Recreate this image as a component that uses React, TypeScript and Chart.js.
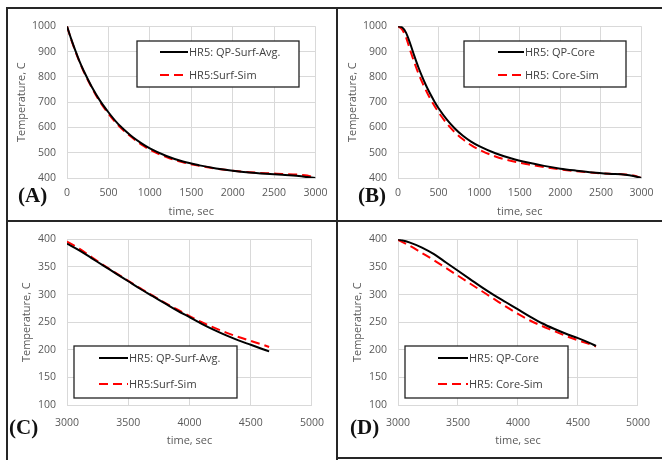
import React, { useEffect, useRef } from 'react';
import { Chart, registerables } from 'chart.js';

Chart.register(...registerables);

// ---------- data ----------
const timesA = [0, 50, 100, 150, 200, 300, 400, 500, 600, 700, 800, 900, 1000, 1200, 1400, 1600, 1800, 2000, 2200, 2400, 2600, 2800, 2900, 3000];
const surfAvgA = [1000, 950, 905, 862, 825, 760, 705, 660, 620, 588, 560, 537, 517, 487, 465, 450, 438, 429, 422, 417, 413, 408, 404, 400];
const surfSimA = [1000, 948, 902, 860, 822, 757, 700, 655, 615, 583, 556, 532, 512, 483, 462, 448, 437, 429, 423, 419, 416, 413, 410, 400];

const timesB = [0, 50, 100, 150, 200, 250, 300, 350, 400, 450, 500, 600, 700, 800, 900, 1000, 1200, 1400, 1600, 1800, 2000, 2200, 2400, 2600, 2800, 2900, 3000];
const coreB = [1000, 996, 974, 932, 884, 839, 799, 763, 731, 702, 676, 632, 596, 567, 544, 526, 498, 477, 461, 448, 437, 429, 422, 417, 413, 408, 400];
const coreSimB = [1000, 988, 955, 905, 858, 815, 777, 743, 712, 685, 660, 616, 581, 553, 530, 512, 485, 467, 454, 443, 434, 427, 421, 417, 414, 410, 400];

const timesCD = [3000, 3100, 3200, 3300, 3400, 3500, 3600, 3700, 3800, 3900, 4000, 4100, 4200, 4300, 4400, 4500, 4600, 4650];
const surfAvgC = [392, 380, 366, 352, 338, 324, 310, 297, 284, 271, 259, 247, 236, 226, 217, 209, 201, 197];
const surfSimC = [396, 383, 368, 353, 339, 325, 311, 298, 285, 273, 261, 250, 240, 231, 223, 216, 209, 205];
const coreD = [400, 394, 385, 373, 358, 343, 328, 313, 299, 286, 273, 260, 248, 238, 229, 221, 212, 207];
const coreSimD = [399, 388, 375, 362, 348, 334, 320, 306, 292, 278, 265, 253, 243, 234, 225, 217, 210, 206];

const labelsA = ['HR5: QP-Surf-Avg.', 'HR5:Surf-Sim'];
const labelsB = ['HR5: QP-Core', 'HR5: Core-Sim'];
const xTitle = 'time, sec';
const yTitle = 'Temperature, C';
const panelTags = ['(A)', '(B)', '(C)', '(D)'];

// ---------- styles ----------
const FONT = '"Open Sans", "Liberation Sans", sans-serif';
const AXIS_COLOR = '#595959';
const GRID_COLOR = '#d9d9d9';

const boxLegend = {
  id: 'boxLegend',
  afterDraw(chart: any, _args: any, opts: any) {
    const { ctx } = chart;
    ctx.save();
    ctx.fillStyle = '#ffffff';
    ctx.fillRect(opts.x, opts.y, opts.w, opts.h);
    ctx.strokeStyle = '#222222';
    ctx.lineWidth = 1.3;
    ctx.strokeRect(opts.x, opts.y, opts.w, opts.h);
    chart.data.datasets.forEach((ds: any, i: number) => {
      const y = opts.rows[i];
      ctx.beginPath();
      ctx.setLineDash(ds.borderDash || []);
      ctx.strokeStyle = ds.borderColor;
      ctx.lineWidth = ds.borderWidth;
      ctx.moveTo(opts.sx0, y);
      ctx.lineTo(opts.sx1, y);
      ctx.stroke();
      ctx.setLineDash([]);
      ctx.fillStyle = '#404040';
      ctx.font = '11px ' + FONT;
      ctx.textBaseline = 'middle';
      ctx.textAlign = 'left';
      ctx.fillText(ds.label, opts.tx, y + 0.5);
    });
    ctx.restore();
  },
};

type Panel = {
  left: number; top: number; width: number; height: number;
  xMin: number; xMax: number; yMin: number; yMax: number; yStep: number;
  yAxisWidth: number; xAxisHeight: number; padTop: number; padRight: number;
  xTickPad: number; xTitlePad: number; yTitlePad: number;
  xs: number[]; solid: number[]; dashed: number[]; labels: string[];
  legend: { x: number; y: number; w: number; h: number; sx0: number; sx1: number; tx: number; rows: number[] };
};

const panels: Panel[] = [
  {
    left: 8, top: 9, width: 328, height: 211,
    xMin: 0, xMax: 3000, yMin: 400, yMax: 1000, yStep: 50,
    yAxisWidth: 59, xAxisHeight: 42, padTop: 7, padRight: 20,
    xTickPad: 8.5, xTitlePad: 1.5, yTitlePad: 7.5,
    xs: timesA, solid: surfAvgA, dashed: surfSimA, labels: labelsA,
    legend: { x: 129, y: 32, w: 162, h: 46, sx0: 152, sx1: 180, tx: 181, rows: [43, 66] },
  },
  {
    left: 338, top: 9, width: 324, height: 211,
    xMin: 0, xMax: 3000, yMin: 400, yMax: 1000, yStep: 50,
    yAxisWidth: 60, xAxisHeight: 42, padTop: 7, padRight: 15,
    xTickPad: 8.5, xTitlePad: 1.5, yTitlePad: 8,
    xs: timesB, solid: coreB, dashed: coreSimB, labels: labelsB,
    legend: { x: 126, y: 32, w: 162, h: 46, sx0: 160, sx1: 186, tx: 187, rows: [43, 66] },
  },
  {
    left: 8, top: 222, width: 328, height: 236,
    xMin: 3000, xMax: 5000, yMin: 100, yMax: 400, yStep: 25,
    yAxisWidth: 59, xAxisHeight: 53, padTop: 6, padRight: 20,
    xTickPad: 12, xTitlePad: 10.5, yTitlePad: 12.5,
    xs: timesCD, solid: surfAvgC, dashed: surfSimC, labels: labelsA,
    legend: { x: 66, y: 124, w: 163, h: 52, sx0: 91, sx1: 120, tx: 121, rows: [136, 162] },
  },
  {
    left: 338, top: 222, width: 324, height: 236,
    xMin: 3000, xMax: 5000, yMin: 100, yMax: 400, yStep: 25,
    yAxisWidth: 60, xAxisHeight: 53, padTop: 6, padRight: 15,
    xTickPad: 12, xTitlePad: 10.5, yTitlePad: 13.5,
    xs: timesCD, solid: coreD, dashed: coreSimD, labels: labelsB,
    legend: { x: 67, y: 124, w: 163, h: 52, sx0: 100, sx1: 130, tx: 131, rows: [136, 162] },
  },
];

const tagPos = [
  { left: 18, top: 185 },
  { left: 358, top: 185 },
  { left: 9, top: 417 },
  { left: 350, top: 417 },
];

function PanelChart({ p }: { p: Panel }) {
  const ref = useRef<HTMLCanvasElement | null>(null);
  useEffect(() => {
    if (!ref.current) return;
    const toPts = (ys: number[]) => p.xs.map((x, i) => ({ x, y: ys[i] }));
    const tickFont = { family: FONT, size: 10.5 };
    const titleFont = { family: FONT, size: 11 };
    const chart = new Chart(ref.current, {
      type: 'line',
      data: {
        datasets: [
          {
            label: p.labels[0], data: toPts(p.solid), borderColor: '#000000', borderWidth: 2,
            pointRadius: 0, cubicInterpolationMode: 'monotone', fill: false,
          },
          {
            label: p.labels[1], data: toPts(p.dashed), borderColor: '#ff0000', borderWidth: 2,
            borderDash: [9, 5], pointRadius: 0, cubicInterpolationMode: 'monotone', fill: false,
          },
        ],
      } as any,
      options: {
        animation: false,
        responsive: false,
        maintainAspectRatio: false,
        layout: { padding: { top: p.padTop, right: p.padRight, bottom: 0, left: 0 } },
        plugins: {
          legend: { display: false },
          tooltip: { enabled: false },
          boxLegend: p.legend,
        } as any,
        scales: {
          x: {
            type: 'linear', min: p.xMin, max: p.xMax,
            ticks: { stepSize: 500, color: AXIS_COLOR, font: tickFont, padding: p.xTickPad, maxRotation: 0, callback: (v: any) => String(v) },
            grid: { color: GRID_COLOR, drawTicks: false, lineWidth: 1 },
            border: { color: GRID_COLOR },
            title: { display: true, text: xTitle, color: AXIS_COLOR, font: titleFont, padding: { top: 0, bottom: p.xTitlePad } },
            afterFit: (s: any) => { s.height = p.xAxisHeight; },
          },
          y: {
            type: 'linear', min: p.yMin, max: p.yMax,
            ticks: { stepSize: p.yStep, color: AXIS_COLOR, font: tickFont, padding: 11, callback: (v: any) => String(v) },
            grid: { color: GRID_COLOR, drawTicks: false, lineWidth: 1 },
            border: { color: GRID_COLOR },
            title: { display: true, text: yTitle, color: AXIS_COLOR, font: titleFont, padding: { top: p.yTitlePad, bottom: 0 } },
            afterFit: (s: any) => { s.width = p.yAxisWidth; },
          },
        },
      } as any,
      plugins: [boxLegend],
    });
    return () => chart.destroy();
  }, [p]);
  return (
    <canvas
      ref={ref}
      width={p.width}
      height={p.height}
      style={{ position: 'absolute', left: p.left, top: p.top, width: p.width, height: p.height }}
    />
  );
}

const lineStyle = (left: number, top: number, width: number, height: number): React.CSSProperties => ({
  position: 'absolute', left, top, width, height, background: '#262626',
});

export default function App() {
  return (
    <div style={{ position: 'absolute', left: 0, top: 0, width: 662, height: 460, background: '#ffffff', overflow: 'hidden' }}>
      {panels.map((p, i) => <PanelChart key={i} p={p} />)}
      <div style={lineStyle(6, 7, 656, 2)} />
      <div style={lineStyle(6, 7, 2, 453)} />
      <div style={lineStyle(336, 7, 2, 453)} />
      <div style={lineStyle(6, 220, 656, 2)} />
      <div style={lineStyle(336, 457, 326, 2)} />
      {panelTags.map((t, i) => (
        <div
          key={t}
          style={{
            position: 'absolute', left: tagPos[i].left, top: tagPos[i].top,
            fontFamily: '"Liberation Serif", "Times New Roman", serif', fontWeight: 'bold',
            fontSize: 21, lineHeight: 1, color: '#111111',
          }}
        >
          {t}
        </div>
      ))}
    </div>
  );
}
